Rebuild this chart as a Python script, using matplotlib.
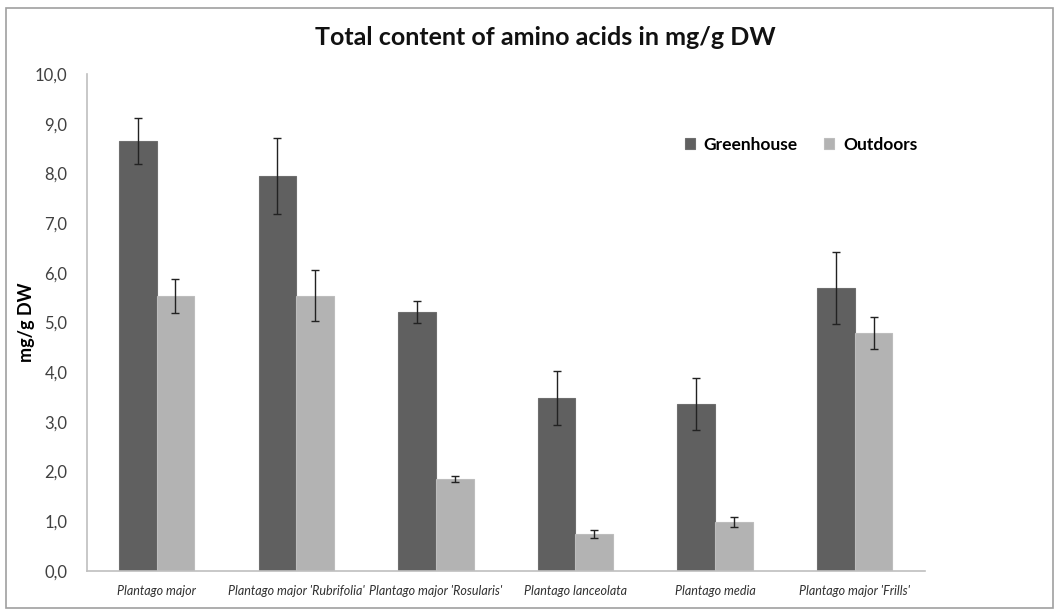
import matplotlib
matplotlib.use("Agg")
import matplotlib.pyplot as plt
import numpy as np
from matplotlib.patches import Rectangle

# data
categories = ["Plantago major", "Plantago major 'Rubrifolia'", "Plantago major 'Rosularis'",
              "Plantago lanceolata", "Plantago media", "Plantago major 'Frills'"]
greenhouse = [8.65, 7.95, 5.21, 3.48, 3.36, 5.69]
greenhouse_err = [0.46, 0.76, 0.23, 0.54, 0.53, 0.72]
outdoors = [5.53, 5.54, 1.85, 0.74, 0.99, 4.79]
outdoors_err = [0.34, 0.51, 0.06, 0.08, 0.10, 0.32]
yticks = [i for i in range(0, 11)]
ytick_labels = ["%d,0" % v for v in yticks]

plt.rcParams['font.family'] = ['Lato', 'DejaVu Sans']

fig = plt.figure(figsize=(10.59, 6.11), dpi=100)
ax = fig.add_axes([0.082, 0.0655, 0.791, 0.8135])

x = np.arange(len(categories))
w = 0.27
ax.bar(x - w / 2, greenhouse, w, color='#606060', edgecolor='#6e6e6e', linewidth=0.8,
       yerr=greenhouse_err, error_kw=dict(ecolor='#222222', elinewidth=1, capsize=3, capthick=1),
       label='Greenhouse')
ax.bar(x + w / 2, outdoors, w, color='#b3b3b3', edgecolor='#bdbdbd', linewidth=0.8,
       yerr=outdoors_err, error_kw=dict(ecolor='#222222', elinewidth=1, capsize=3, capthick=1),
       label='Outdoors')

ax.set_xlim(-0.5, len(categories) - 0.5)
ax.set_ylim(0, 10)
ax.set_yticks(yticks)
ax.set_yticklabels(ytick_labels, fontsize=12, color='#404040')
ax.set_xticks(x)
ax.set_xticklabels(categories, fontsize=9, style='italic', color='#303030')
ax.tick_params(length=0, pad=14, axis='y')
ax.tick_params(length=0, pad=10, axis='x')

for s in ['top', 'right']:
    ax.spines[s].set_visible(False)
for s in ['left', 'bottom']:
    ax.spines[s].set_color('#bfbfbf')
    ax.spines[s].set_linewidth(1.2)

ax.set_ylabel('mg/g DW', fontsize=13, fontweight='bold')
ax.yaxis.set_label_coords(-0.062, 0.5)

fig.text(0.515, 0.938, 'Total content of amino acids in mg/g DW', ha='center', va='center',
         fontsize=18, fontweight='bold', color='#111111')

ax.legend(loc='upper right', bbox_to_anchor=(1.01, 0.905), ncol=2, frameon=False,
          prop={'size': 12.5, 'weight': 'bold'}, handlelength=0.6, handleheight=0.6,
          handletextpad=0.5, columnspacing=1.5)

fig.patches.append(Rectangle((0.006, 0.005), 0.988, 0.982, transform=fig.transFigure,
                             fill=False, edgecolor='#a0a0a0', linewidth=1.2))

fig.savefig('out.png', dpi=100)
